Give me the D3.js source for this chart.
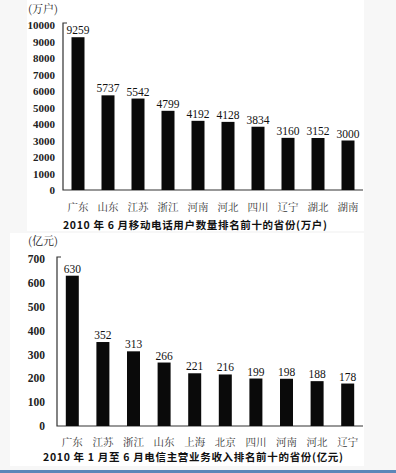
<!DOCTYPE html>
<html><head><meta charset="utf-8">
<script src="https://cdn.jsdelivr.net/npm/d3@7/dist/d3.min.js"></script>
<style>
html,body{margin:0;padding:0;background:#f7f7f7;}
svg{display:block;}
</style></head>
<body>
<svg id="chart" width="396" height="473"></svg>
<script>
// ---- Data ----
const provinces1 = ["广东","山东","江苏","浙江","河南","河北","四川","辽宁","湖北","湖南"];
const users = [9259,5737,5542,4799,4192,4128,3834,3160,3152,3000];
const ticks1 = [0,1000,2000,3000,4000,5000,6000,7000,8000,9000,10000];
const unit1 = "(万户)";
const title1 = "2010 年 6 月移动电话用户数量排名前十的省份(万户)";

const provinces2 = ["广东","江苏","浙江","山东","上海","北京","四川","河南","河北","辽宁"];
const revenue = [630,352,313,266,221,216,199,198,188,178];
const ticks2 = [0,100,200,300,400,500,600,700];
const unit2 = "(亿元)";
const title2 = "2010 年 1 月至 6 月电信主营业务收入排名前十的省份(亿元)";

const svg = d3.select("#chart");
// panels
svg.append("rect").attr("x",0).attr("y",0).attr("width",396).attr("height",473).attr("fill","#f7f7f7");
svg.append("rect").attr("x",27).attr("y",0).attr("width",337).attr("height",231).attr("fill","#fff");
svg.append("rect").attr("x",10).attr("y",233).attr("width",354).attr("height",233).attr("fill","#fff");
svg.append("rect").attr("x",0).attr("y",470).attr("width",396).attr("height",3).attr("fill","#5b86b8");

const numFont = "'Liberation Serif','DejaVu Serif',serif";
const cjkFont = "'Noto Serif CJK SC','Noto Sans CJK SC',sans-serif";
const titleFont = "'Noto Sans CJK SC','Noto Sans',sans-serif";

function drawChart(cfg){
  const g = svg.append("g");
  const x = d3.scaleBand().domain(cfg.cats).range([cfg.x0, cfg.x1]).padding(0);
  const y = d3.scaleLinear().domain([0, cfg.max]).range([cfg.yBase, cfg.yTop]);
  const bw = 13;
  // axis
  const axis = d3.axisLeft(y).tickValues(cfg.ticks).tickSize(0).tickPadding(cfg.tickPad).tickFormat(d3.format("d"));
  const ag = g.append("g").attr("transform",`translate(${cfg.x0},0)`).call(axis);
  ag.select(".domain").remove();
  ag.selectAll("text").attr("font-family",numFont).attr("font-size",cfg.tickFs).attr("fill","#222").attr("font-weight","bold");
  // axis lines
  g.append("path").attr("d",`M${cfg.x0+4},${cfg.yTop-2}H${cfg.x0}V${cfg.yBase}H${cfg.x1}`)
    .attr("fill","none").attr("stroke","#333").attr("stroke-width",1.2);
  // bars
  g.selectAll(".bar").data(cfg.vals).enter().append("rect")
    .attr("x",(d,i)=>x(cfg.cats[i])+(x.bandwidth()-bw)/2)
    .attr("y",d=>y(d)).attr("width",bw).attr("height",d=>cfg.yBase-y(d)).attr("fill","#0a0a0a");
  // value labels
  g.selectAll(".val").data(cfg.vals).enter().append("text")
    .attr("x",(d,i)=>x(cfg.cats[i])+x.bandwidth()/2).attr("y",d=>y(d)-3)
    .attr("text-anchor","middle").attr("font-family",numFont).attr("font-size",cfg.valFs).attr("fill","#111")
    .text(d=>d);
  // category labels
  g.selectAll(".cat").data(cfg.cats).enter().append("text")
    .attr("x",d=>x(d)+x.bandwidth()/2).attr("y",cfg.catY)
    .attr("text-anchor","middle").attr("font-family",cjkFont).attr("font-size",10.5).attr("fill","#333")
    .text(d=>d);
  // unit
  g.append("text").attr("x",28).attr("y",cfg.unitY).attr("font-family",cjkFont).attr("font-size",11).attr("fill","#222").text(cfg.unit);
  // title
  g.append("text").attr("x",cfg.titleX).attr("y",cfg.titleY).attr("font-family",titleFont).attr("font-size",10.5)
    .attr("font-weight","bold").attr("fill","#111")
    .attr("textLength",cfg.titleW).attr("lengthAdjust","spacing").text(cfg.title);
}

drawChart({cats:provinces1, vals:users, ticks:ticks1, max:10000, x0:63, x1:363, yBase:190, yTop:25,
  tickPad:8, tickFs:11, valFs:11.5, catY:211, unitY:13, unit:unit1, title:title1, titleX:63, titleY:229, titleW:264});
drawChart({cats:provinces2, vals:revenue, ticks:ticks2, max:700, x0:57, x1:363, yBase:426, yTop:259,
  tickPad:12, tickFs:11.5, valFs:11.5, catY:446, unitY:245, unit:unit2, title:title2, titleX:43, titleY:461, titleW:300});
</script>
</body></html>
